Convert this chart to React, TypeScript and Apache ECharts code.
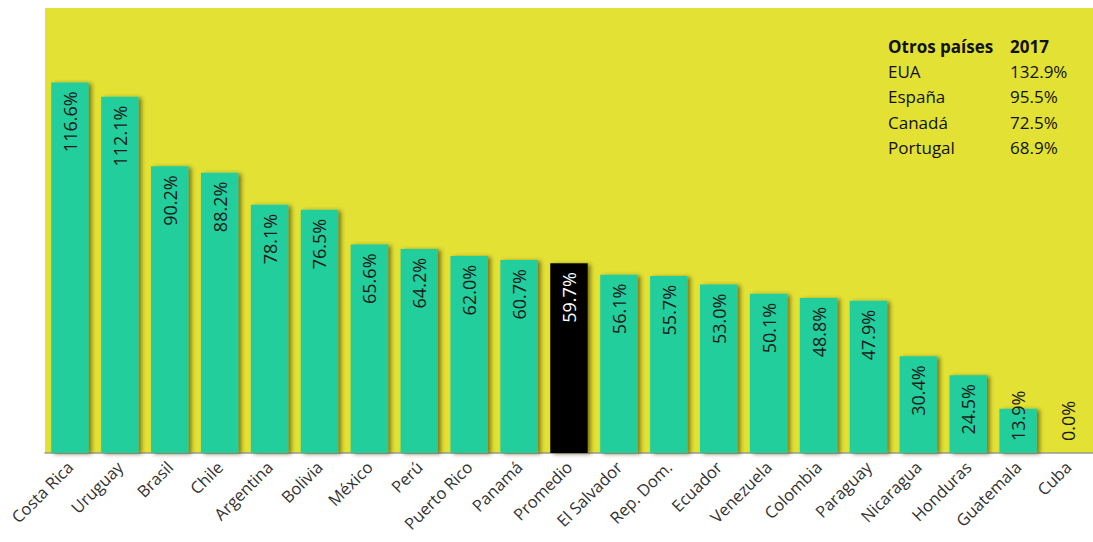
import React, { useEffect, useRef } from "react";
import * as echarts from "echarts";

const categories = [
  "Costa Rica", "Uruguay", "Brasil", "Chile", "Argentina", "Bolivia", "México",
  "Perú", "Puerto Rico", "Panamá", "Promedio", "El Salvador", "Rep. Dom.",
  "Ecuador", "Venezuela", "Colombia", "Paraguay", "Nicaragua", "Honduras",
  "Guatemala", "Cuba",
];
const values = [
  116.6, 112.1, 90.2, 88.2, 78.1, 76.5, 65.6, 64.2, 62.0, 60.7, 59.7, 56.1,
  55.7, 53.0, 50.1, 48.8, 47.9, 30.4, 24.5, 13.9, 0.0,
];
const highlightCategory = "Promedio";

const tableHeader = ["Otros países", "2017"];
const otherCountries = ["EUA", "España", "Canadá", "Portugal"];
const otherValues = [132.9, 95.5, 72.5, 68.9];

const YELLOW = "#E3E234";
const GREEN = "#24CE9B";
const FONT = "'Open Sans', sans-serif";

export default function App() {
  const ref = useRef<HTMLDivElement>(null);

  useEffect(() => {
    if (!ref.current) return;
    const chart = echarts.init(ref.current, undefined, { renderer: "svg" });

    const data = values.map((v, i) => {
      const isHi = categories[i] === highlightCategory;
      const small = v < 20;
      return {
        value: v,
        itemStyle: {
          color: isHi ? "#000000" : GREEN,
        },
        label: {
          position: small ? "insideBottom" : "insideTop",
          align: small ? "left" : "right",
          distance: small ? 12 : 9,
          color: isHi ? "#ffffff" : "#1a1a1a",
        },
      };
    });

    const rowY0 = 48;
    const rowStep = 25.2;
    const graphics: any[] = [
      {
        type: "text",
        left: 888,
        top: rowY0 - 10,
        style: { text: tableHeader[0], font: `bold 17px ${FONT}`, fill: "#111" },
      },
      {
        type: "text",
        left: 1010,
        top: rowY0 - 10,
        style: { text: tableHeader[1], font: `bold 17px ${FONT}`, fill: "#111" },
      },
    ];
    otherCountries.forEach((c, i) => {
      const y = rowY0 + (i + 1) * rowStep - 10;
      graphics.push({
        type: "text",
        left: 888,
        top: y,
        style: { text: c, font: `17px ${FONT}`, fill: "#111" },
      });
      graphics.push({
        type: "text",
        left: 1010,
        top: y,
        style: { text: otherValues[i].toFixed(1) + "%", font: `17px ${FONT}`, fill: "#111" },
      });
    });

    chart.setOption({
      animation: false,
      backgroundColor: "#ffffff",
      grid: {
        left: 45,
        top: 8,
        width: 1058,
        height: 445,
        show: true,
        backgroundColor: YELLOW,
        borderWidth: 0,
        containLabel: false,
      },
      xAxis: {
        type: "category",
        data: categories,
        axisLine: { show: true, lineStyle: { color: "#9a9a8a", width: 1.5 } },
        axisTick: { show: false },
        axisLabel: {
          rotate: 45,
          interval: 0,
          margin: 11,
          fontSize: 16.5,
          fontFamily: FONT,
          color: "#333333",
        },
      },
      yAxis: {
        type: "value",
        min: 0,
        max: 140,
        show: false,
        splitLine: { show: false },
      },
      series: [
        {
          type: "bar",
          data,
          barCategoryGap: "25%",
          itemStyle: {
            shadowColor: "rgba(60,50,0,0.6)",
            shadowBlur: 4,
            shadowOffsetX: 3,
            shadowOffsetY: 1,
          },
          label: {
            show: true,
            rotate: 90,
            verticalAlign: "middle",
            fontSize: 18,
            fontFamily: FONT,
            formatter: (p: any) => Number(p.value).toFixed(1) + "%",
          },
        },
      ],
      graphic: graphics,
    });

    return () => chart.dispose();
  }, []);

  return (
    <div
      ref={ref}
      style={{ position: "fixed", left: 0, top: 0, width: 1093, height: 542 }}
    />
  );
}
